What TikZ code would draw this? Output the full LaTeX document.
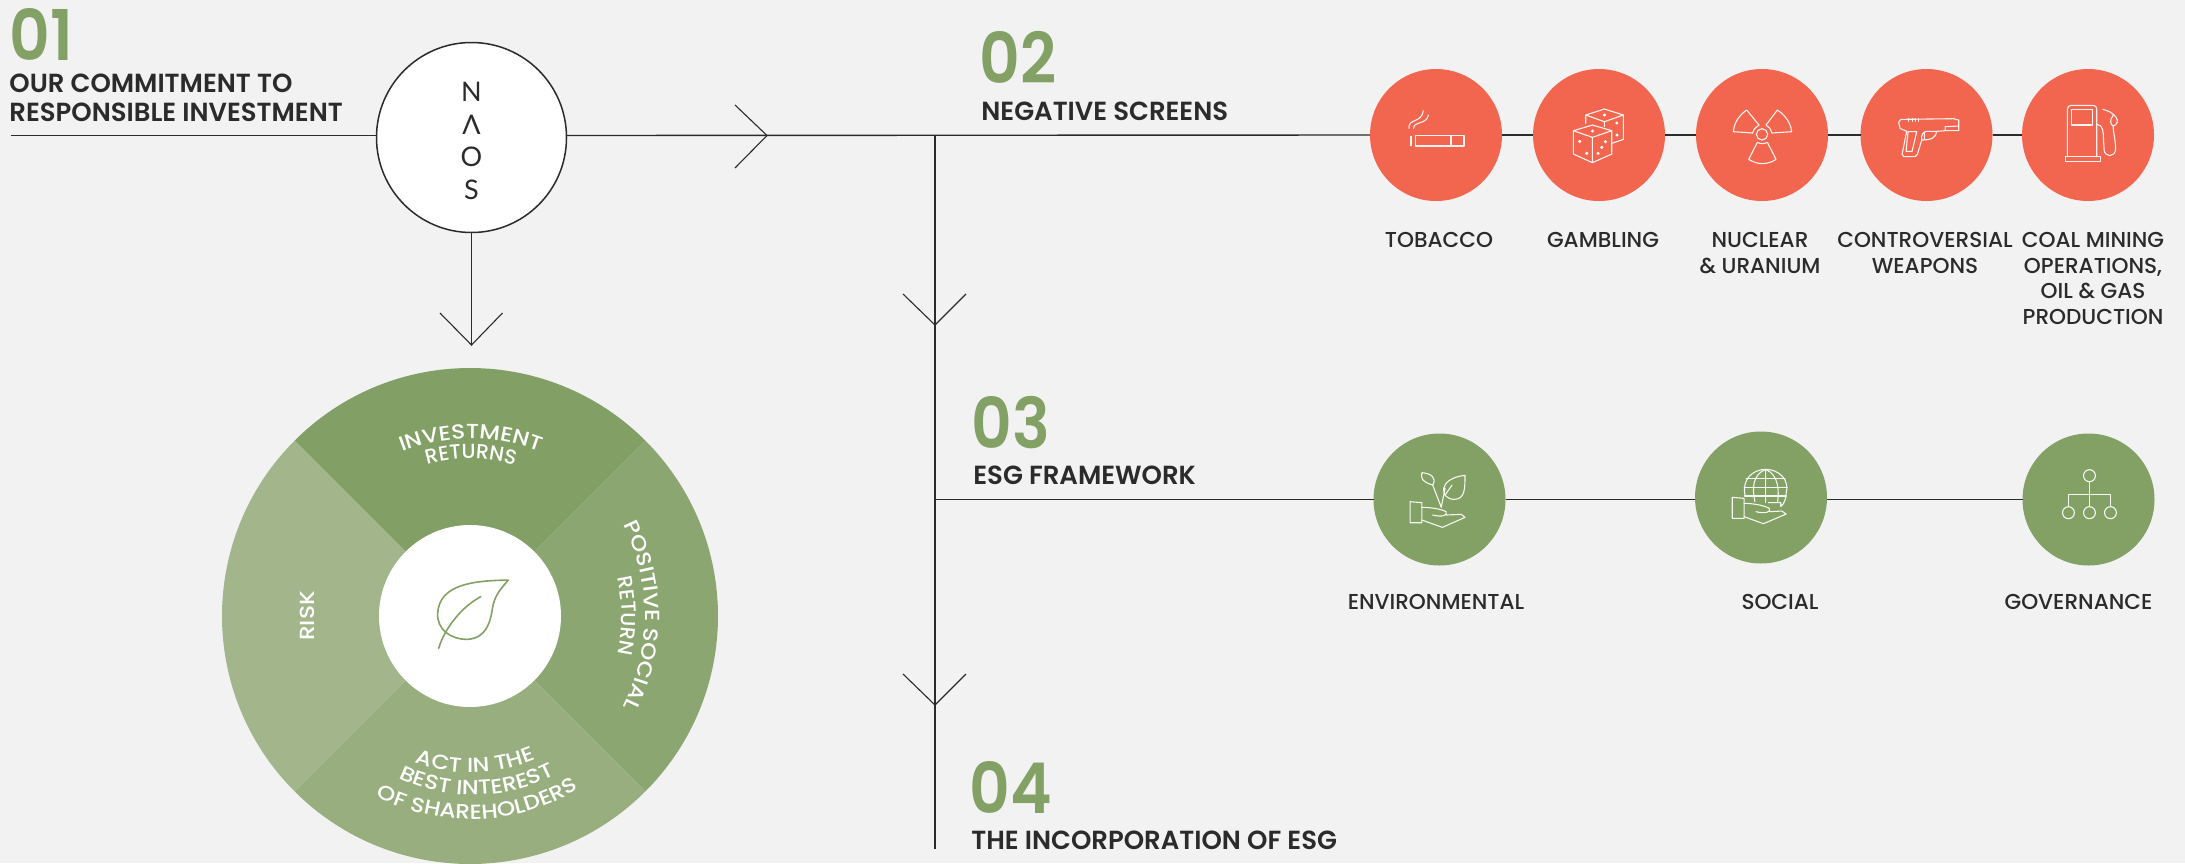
\documentclass[tikz,border=0pt]{standalone}
\usepackage{fontspec}
\usetikzlibrary{decorations.text}
\setmainfont[UprightFont={* Medium},FakeStretch=1.0]{Poppins}
\newfontfamily\numfont[UprightFont={* SemiBold},FakeStretch=0.9]{Poppins}
\newfontfamily\headfont[UprightFont={* SemiBold},FakeStretch=0.99]{Poppins}
\newfontfamily\wheelfont[UprightFont={* Medium},FakeStretch=1.14]{Poppins}
\newfontfamily\wheelnarrow[UprightFont={* Medium},FakeStretch=1.0]{Poppins}
\newfontfamily\naosfont{Lato}
\definecolor{bgc}{HTML}{F2F2F2}
\definecolor{ink}{HTML}{2B2B2B}
\definecolor{leafg}{HTML}{83A065}
\definecolor{redc}{HTML}{F26650}
\definecolor{sa}{HTML}{829F66}
\definecolor{sb}{HTML}{8CA672}
\definecolor{sc}{HTML}{98AE7F}
\definecolor{sd}{HTML}{A3B58B}
\tikzset{
  x=0.5pt,y=-0.5pt,
  conn/.style={draw=ink,line width=0.7pt},
  wing/.style={draw=ink,line width=0.55pt},
  redball/.style={circle,fill=redc,minimum size=66pt,inner sep=0pt,outer sep=0pt},
  grnball/.style={circle,fill=leafg,minimum size=66pt,inner sep=0pt,outer sep=0pt},
  num/.style={text=leafg,font=\numfont\fontsize{35}{35}\selectfont,inner sep=0pt,anchor=north west},
  head/.style={text=ink,font=\headfont\fontsize{13.1}{15}\selectfont,inner sep=0pt,anchor=north west},
  lab/.style={text=ink,font=\fontsize{10.8}{12.75}\selectfont,inner sep=0pt,anchor=north,align=center},
  naosltr/.style={text=ink,font=\naosfont\fontsize{13.5}{14}\selectfont},
  ico/.style={draw=white!92!redc,line width=0.55pt,line join=round,line cap=round},
  icg/.style={draw=white!92!leafg,line width=0.55pt,line join=round,line cap=round},
  wheeltext/.style={decorate,decoration={text along path,text align=center,
     text={|\color{white}\wheelfont\fontsize{10.2}{10.2}\selectfont|#1}}},
  wheeltextn/.style={decorate,decoration={text along path,text align=center,
     text={|\color{white}\wheelnarrow\fontsize{10.2}{10.2}\selectfont|#1}}},
}
\begin{document}
\begin{tikzpicture}
\useasboundingbox (0,0) rectangle (2185,863);
\fill[bgc] (0,0) rectangle (2185,863);

% wheel
\coordinate (wc) at (470,616);
\fill[sa] (wc) -- ++(-135:248) arc[start angle=-135,end angle=-45,radius=248] -- cycle;
\fill[sb] (wc) -- ++(-45:248) arc[start angle=-45,end angle=45,radius=248] -- cycle;
\fill[sc] (wc) -- ++(45:248) arc[start angle=45,end angle=135,radius=248] -- cycle;
\fill[sd] (wc) -- ++(135:248) arc[start angle=135,end angle=225,radius=248] -- cycle;
\node[circle,fill=white,minimum size=91pt,inner sep=0pt] (hub) at (wc) {};

% leaf
\begin{scope}[shift={(200,380)},x=0.1722pt,y=-0.1667pt]
\draw[draw=leafg,line width=0.8pt,line join=round,line cap=round]
  (895,600) .. controls (800,602) and (695,610) .. (690,700)
  .. controls (688,750) and (730,778) .. (775,778)
  .. controls (830,775) and (843,730) .. (850,680)
  .. controls (856,645) and (875,625) .. (895,600) -- cycle;
\draw[draw=leafg,line width=0.8pt,line cap=round]
  (693,805) .. controls (710,745) and (760,680) .. (815,650);
\end{scope}

% wheel labels
\path[wheeltext={INVESTMENT}] (394,455) .. controls (444,433) and (496,433) .. (548,455);
\path[wheeltextn={RETURNS}] (412,470) .. controls (450,455) and (490,455) .. (530,470);
\path[wheeltext={POSITIVE SOCIAL}] (615,510) .. controls (655,575) and (655,655) .. (615,722);
\path[wheeltextn={RETURN}] (612,560) .. controls (625,595) and (625,637) .. (612,672);
\path[wheeltext={ACT IN THE}] (405,758) .. controls (445,778) and (500,778) .. (546,755);
\path[wheeltext={BEST INTEREST}] (387,772) .. controls (440,803) and (510,803) .. (566,769);
\path[wheeltext={OF SHAREHOLDERS}] (365,791) .. controls (435,830) and (520,830) .. (589,782);
\node[text=white,font=\wheelfont\fontsize{10.2}{10.2}\selectfont,rotate=90,inner sep=0pt] (risk) at (307.5,616) {RISK};

% main nodes
\node[circle,draw=ink,line width=0.75pt,fill=white,minimum size=95pt,inner sep=0pt,outer sep=0pt] (naos) at (471.5,137.5) {};
\node[naosltr] (n1) at (471.5,92) {N};
\node[naosltr] (n2) at (471.5,125) {Λ};
\node[naosltr] (n3) at (471.5,157) {O};
\node[naosltr] (n4) at (471.5,190) {S};

\node[redball] (tob) at (1436,135) {};
\node[redball] (gam) at (1599,135) {};
\node[redball] (nuc) at (1762,135) {};
\node[redball] (wea) at (1926.5,135) {};
\node[redball] (coa) at (2088,135) {};
\node[grnball] (env) at (1439.5,499.5) {};
\node[grnball] (soc) at (1761,497.5) {};
\node[grnball] (gov) at (2088.5,499.5) {};

% connectors
\coordinate (start) at (11,135.5);
\coordinate (jA) at (935,135.5);
\coordinate (jB) at (935,499.5);
\coordinate (vend) at (935,849);
\coordinate (tipR) at (767,135.5);
\coordinate (tipRa) at (735,105);
\coordinate (tipRb) at (735,168);
\coordinate (tipD) at (471.5,345);
\coordinate (tipDa) at (440,313);
\coordinate (tipDb) at (502.5,313);
\coordinate (tipA) at (935,325);
\coordinate (tipAa) at (903,294);
\coordinate (tipAb) at (966,294);
\coordinate (tipC) at (935,705);
\coordinate (tipCa) at (903,674);
\coordinate (tipCb) at (966,674);
\draw[conn] (start) -- (start -| naos.west);
\draw[conn] (start -| naos.east) -- (tob.west);
\draw[conn] (naos.south) -- (tipD);
\draw[conn] (tob) -- (gam);
\draw[conn] (gam) -- (nuc);
\draw[conn] (nuc) -- (wea);
\draw[conn] (wea) -- (coa);
\draw[conn] (jA) -- (vend);
\draw[conn] (jB) -- (env.west);
\draw[conn] (env.east) -- (soc.west |- env.east);
\draw[conn] (soc.east |- env.east) -- (gov.west);
\draw[wing] (tipRa) -- (tipR) -- (tipRb);
\draw[wing] (tipDa) -- (tipD) -- (tipDb);
\draw[wing] (tipAa) -- (tipA) -- (tipAb);
\draw[wing] (tipCa) -- (tipC) -- (tipCb);

% heads
\node[num] (h1) at (9,8) {01};
\node[num] (h2) at (979,31) {02};
\node[num] (h3) at (971,396) {03};
\node[num] (h4) at (969,761) {04};
\node[head] (t1a) at (9,74) {OUR COMMITMENT TO};
\node[head] (t1b) at (9,103) {RESPONSIBLE INVESTMENT};
\node[head] (t2) at (981,102) {NEGATIVE SCREENS};
\node[head] (t3) at (973,466) {ESG FRAMEWORK};
\node[head] (t4) at (971,831) {THE INCORPORATION OF ESG};

% labels
\node[lab] (l1) at (1439,232) {TOBACCO};
\node[lab] (l2) at (1603,232) {GAMBLING};
\node[lab] (l3) at (1760,232) {NUCLEAR\\\& URANIUM};
\node[lab] (l4) at (1925,232) {CONTROVERSIAL\\WEAPONS};
\node[lab] (l5) at (2093,232) {COAL MINING\\OPERATIONS,\\OIL \& GAS\\PRODUCTION};
\node[lab] (l6) at (1436,594) {ENVIRONMENTAL};
\node[lab] (l7) at (1780,594) {SOCIAL};
\node[lab] (l8) at (2078.5,594) {GOVERNANCE};

% cigarette and dice
\begin{scope}[shift={(1360,60)},x=0.1667pt,y=-0.1667pt]
\draw[ico] (167,227) rectangle (312,258) (273,227) -- (273,258) (153,229) -- (153,257);
\draw[ico] (147,205) .. controls (143,175) and (185,190) .. (190,152);
\draw[ico] (161,205) .. controls (160,183) and (200,195) .. (205,165);
\draw[ico] (640,212) -- (697,195) -- (755,212) -- (697,232) -- cycle
  (640,212) -- (640,282) -- (697,308) -- (755,282) -- (755,212) (697,232) -- (697,308);
\draw[ico] (677,190) -- (677,165) -- (733,147) -- (790,165) -- (733,185) -- (677,165)
  (733,185) -- (733,200) (790,165) -- (790,238) -- (755,250);
\fill[white] (733,165) circle[radius=5] (770,189) circle[radius=5] (771,225) circle[radius=5]
  (697,213) circle[radius=5] (659,244) circle[radius=5] (680,280) circle[radius=5]
  (736,245) circle[radius=5] (725,262) circle[radius=5] (714,280) circle[radius=5];
\end{scope}

% radiation, gun, pump
\begin{scope}[shift={(1680,60)},x=0.1667pt,y=-0.1667pt]
\draw[ico] (246,223) circle[radius=17];
\draw[ico] (160,215) -- (218,219) .. controls (220,208) and (228,200) .. (237,195) -- (200,150) .. controls (178,165) and (162,188) .. (160,215) -- cycle;
\draw[ico] (335,215) -- (275,219) .. controls (273,208) and (267,200) .. (258,195) -- (292,150) .. controls (315,165) and (332,188) .. (335,215) -- cycle;
\draw[ico] (232,247) -- (206,298) .. controls (232,315) and (262,315) .. (288,298) -- (262,247) .. controls (252,252) and (242,252) .. (232,247) -- cycle;
% gun
\draw[ico] (670,178) -- (820,176) -- (836,180) -- (836,212) -- (795,212) -- (770,214)
  .. controls (768,232) and (755,240) .. (725,240) -- (712,283) -- (705,290) -- (672,290) -- (666,283) -- (680,214) -- (660,205) -- (656,187) .. controls (660,178) and (665,176) .. (670,178) -- cycle;
\draw[ico] (684,215) -- (710,215) -- (696,274) -- (678,274) -- cycle;
\draw[ico] (795,212) -- (795,200) -- (836,198) (725,240) .. controls (722,225) and (730,214) .. (740,214) -- (770,214) (733,216) -- (733,238);
\draw[ico] (686,175) -- (686,184) (698,175) -- (698,184) (706,176) -- (706,184) (714,176) -- (714,184);
% pump
\draw[ico] (1162,290) -- (1162,148) .. controls (1162,140) and (1166,136) .. (1174,136) -- (1238,136) .. controls (1246,136) and (1250,140) .. (1250,148) -- (1250,290);
\draw[ico] (1155,290) rectangle (1262,305);
\draw[ico] (1175,149) rectangle (1238,195);
\draw[ico] (1250,193) .. controls (1268,193) and (1270,215) .. (1270,235) -- (1272,270) .. controls (1274,292) and (1304,292) .. (1306,270) .. controls (1308,245) and (1300,225) .. (1299,198);
\draw[ico] (1268,148) .. controls (1285,152) and (1300,160) .. (1308,172) .. controls (1316,182) and (1310,196) .. (1299,198) .. controls (1290,194) and (1288,178) .. (1300,165);
\end{scope}

% green icons
\begin{scope}[shift={(1340,410)},x=0.2694pt,y=-0.1667pt]
\draw[icg] (130,275) -- (152,278) -- (152,338) -- (130,338) -- cycle;
\draw[icg] (152,292) .. controls (165,292) and (185,295) .. (197,305) .. controls (200,316) and (190,322) .. (172,315)
  (197,315) -- (225,313) -- (232,322) -- (190,352) -- (152,330);
\draw[icg] (188,292) -- (172,225);
\draw[icg] (172,225) .. controls (150,215) and (150,200) .. (152,188) .. controls (170,190) and (180,205) .. (172,225);
\draw[icg] (188,290) -- (195,235) (212,268) .. controls (185,268) and (180,205) .. (232,196) .. controls (232,235) and (232,268) .. (212,268) (195,255) -- (208,225);
% social
\draw[icg] (728,262) -- (750,265) -- (750,325) -- (728,325) -- cycle;
\draw[icg] (750,280) .. controls (765,280) and (785,285) .. (797,295) .. controls (800,306) and (790,312) .. (772,305)
  (797,305) -- (820,303) -- (828,312) -- (786,341) -- (750,320);
\draw[icg] (795,278) -- (818,278) -- (818,290) (752,258) .. controls (745,210) and (765,178) .. (790,178) .. controls (815,178) and (835,210) .. (828,250) .. controls (828,265) and (825,280) .. (818,290);
\draw[icg] (790,178) .. controls (765,195) and (765,235) .. (770,275) (790,178) .. controls (815,195) and (815,245) .. (812,278) (790,178) -- (790,278);
\draw[icg] (750,232) -- (830,232) (754,206) -- (826,206) (751,258) -- (828,258);
% governance
\draw[icg] (1391,197) ellipse[x radius=11,y radius=18];
\draw[icg] (1352,308) ellipse[x radius=11,y radius=18];
\draw[icg] (1391,308) ellipse[x radius=11,y radius=18];
\draw[icg] (1430,308) ellipse[x radius=11,y radius=18];
\draw[icg] (1391,215) -- (1391,290) (1352,290) -- (1352,253) -- (1430,253) -- (1430,290);
\end{scope}
\end{tikzpicture}
\end{document}
